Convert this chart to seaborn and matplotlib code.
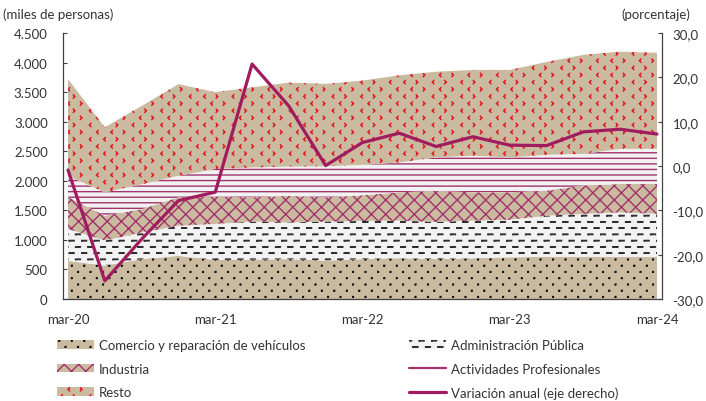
import warnings
warnings.filterwarnings("ignore")
import numpy as np
import matplotlib
matplotlib.use("Agg")
import matplotlib.pyplot as plt
import matplotlib.hatch as mhatch
from matplotlib.path import Path
from matplotlib.patches import Patch
from matplotlib.lines import Line2D
from matplotlib.ticker import FuncFormatter, FixedLocator
import seaborn as sns

# ---------------- data ----------------
quarters = ["mar-20", "jun-20", "sep-20", "dic-20", "mar-21", "jun-21", "sep-21", "dic-21",
            "mar-22", "jun-22", "sep-22", "dic-22", "mar-23", "jun-23", "sep-23", "dic-23", "mar-24"]
comercio = [645, 565, 675, 730, 660, 665, 675, 650, 675, 690, 675, 690, 705, 715, 715, 715, 715]
administracion = [540, 425, 450, 510, 610, 645, 620, 660, 645, 635, 630, 635, 635, 695, 725, 750, 725]
industria = [540, 420, 395, 480, 465, 410, 450, 410, 435, 480, 525, 480, 465, 425, 480, 480, 505]
actividades = [355, 395, 420, 365, 465, 505, 495, 525, 515, 505, 565, 620, 590, 605, 535, 595, 595]
resto = [1640, 1100, 1325, 1550, 1300, 1355, 1420, 1395, 1425, 1475, 1450, 1450, 1480, 1570, 1675, 1645, 1625]
variacion = [-0.9, -25.9, -16.5, -7.8, -5.9, 23.0, 13.5, 0.1, 5.3, 7.4, 4.4, 6.6, 4.7, 4.6, 7.7, 8.3, 7.2]

xtick_labels = ["mar-20", "mar-21", "mar-22", "mar-23", "mar-24"]
left_ticks = [0, 500, 1000, 1500, 2000, 2500, 3000, 3500, 4000, 4500]
right_ticks = [-30, -20, -10, 0, 10, 20, 30]

labels = ["Comercio y reparación de vehículos", "Administración Pública", "Industria",
          "Actividades Profesionales", "Resto", "Variación anual (eje derecho)"]

# ---------------- colours ----------------
TAN = "#CABA9F"
LIGHT = "#F2F2F2"
DOT = "#111111"
DASH = "#2E2E2E"
MAGENTA = "#A3326C"
RED = "#E01B24"
LINE = "#A01C5E"
TXT = "#333333"


# ---------------- custom hatch patterns ----------------
def _dots():
    segs = []
    h = 0.003
    for r in range(16):
        y = (r + 0.5) / 16
        for c in range(8):
            x = (c + (0.25 if r % 2 == 0 else 0.75)) / 8
            segs.append([(x - h, y - h), (x + h, y - h), (x + h, y + h), (x - h, y + h), (x - h, y - h)])
    return segs


def _dashes():
    segs = []
    h = 0.002
    for r in range(16):
        y = (r + 0.5) / 16
        off = 0.006 if r % 2 == 0 else 0.0685
        for c in range(8):
            x0 = c / 8 + off
            x1 = x0 + 0.048
            segs.append([(x0, y - h), (x1, y - h), (x1, y + h), (x0, y + h), (x0, y - h)])
    return segs


def _chevrons():
    segs = []
    a = 0.017
    for r in range(14):
        y = (r + 0.5) / 14
        for c in range(7):
            x = (c + (0.25 if r % 2 == 0 else 0.75)) / 7
            d = 1 if c % 2 == 0 else -1
            segs.append([(x + d * a, y + a), (x, y), (x + d * a, y - a)])
    return segs


def _diamonds():
    n = 7
    segs = []
    for k in range(-n, n + 1):
        c = k / n
        segs.append([(0, c), (1, 1 + c)])
    for k in range(0, 2 * n + 1):
        c = k / n
        segs.append([(0, c), (1, c - 1)])
    return segs


def _make_hatch(ch, fn):
    class _H(mhatch.HatchPatternBase):
        def __init__(self, hatch, density):
            self.segs = fn() if (hatch and ch in hatch) else []
            self.num_vertices = sum(len(s) for s in self.segs)

        def set_vertices_and_codes(self, vertices, codes):
            i = 0
            for s in self.segs:
                n = len(s)
                vertices[i:i + n] = s
                codes[i] = Path.MOVETO
                codes[i + 1:i + n] = Path.LINETO
                i += n
    return _H


for _ch, _fn in [(":", _dots), ("_", _dashes), ("v", _chevrons), ("k", _diamonds)]:
    mhatch._hatch_types.append(_make_hatch(_ch, _fn))

# ---------------- style ----------------
sns.set_theme(style="white")
plt.rcParams["font.family"] = ["Lato", "DejaVu Sans"]
plt.rcParams["hatch.linewidth"] = 1.0
FS = 9.5

fig = plt.figure(figsize=(7.06, 4.02), dpi=100)
fig.patch.set_facecolor("white")
ax = fig.add_axes([63 / 706, 1 - 300 / 402, (662 - 63) / 706, (300 - 34) / 402])
ax.set_facecolor("white")

x = np.arange(len(quarters))
layers = [
    (comercio, TAN, DOT, ":"),
    (administracion, LIGHT, DASH, "_"),
    (industria, TAN, MAGENTA, "k"),
    (actividades, LIGHT, MAGENTA, "---"),
    (resto, TAN, RED, "v"),
]
base = np.zeros(len(x))
for vals, fc, hc, ht in layers:
    top = base + np.asarray(vals, dtype=float)
    ax.fill_between(x, base, top, facecolor=fc, edgecolor=hc, linewidth=0, hatch=ht, zorder=1)
    base = top

ax.set_xlim(-0.136, 16.136)
ax.set_ylim(0, 4500)
ax.yaxis.set_major_locator(FixedLocator(left_ticks))
ax.yaxis.set_major_formatter(FuncFormatter(lambda v, p: f"{int(round(v)):,}".replace(",", ".")))
ax.set_xticks([quarters.index(q) for q in xtick_labels])
ax.set_xticklabels(xtick_labels)
ax.set_xticks([3.83, 7.83, 11.83, 15.83], minor=True)
ax.tick_params(axis="x", which="major", length=0, pad=10, labelsize=FS, labelcolor=TXT)
ax.tick_params(axis="x", which="minor", direction="in", length=2.5, width=0.8, color="#404040", bottom=True)
ax.tick_params(axis="y", which="major", direction="in", length=3, width=0.8, color="#404040",
               left=True, pad=11, labelsize=FS, labelcolor=TXT)
for s in ["top", "right"]:
    ax.spines[s].set_visible(False)
for s in ["left", "bottom"]:
    ax.spines[s].set_color("#404040")
    ax.spines[s].set_linewidth(0.9)

ax2 = ax.twinx()
sns.lineplot(x=x, y=variacion, ax=ax2, color=LINE, linewidth=2.3, legend=False, zorder=5)
ax2.set_ylim(-30, 30)
ax2.yaxis.set_major_locator(FixedLocator(right_ticks))
ax2.yaxis.set_major_formatter(FuncFormatter(lambda v, p: f"{v:.1f}".replace(".", ",")))
ax2.tick_params(axis="y", which="major", direction="in", length=3, width=0.8, color="#404040",
                right=True, pad=7.5, labelsize=FS, labelcolor=TXT)
ax2.set_ylabel("")
ax2.set_xlabel("")
for s in ["top", "left", "bottom"]:
    ax2.spines[s].set_visible(False)
ax2.spines["right"].set_color("#404040")
ax2.spines["right"].set_linewidth(0.9)
ax2.grid(False)
ax.grid(False)

fig.text(3 / 706, 1 - 15 / 402, "(miles de personas)", ha="left", va="center", fontsize=FS, color=TXT)
fig.text(690 / 706, 1 - 15 / 402, "(porcentaje)", ha="right", va="center", fontsize=FS, color=TXT)

# ---------------- legends ----------------
h_left = [Patch(facecolor=TAN, edgecolor=DOT, hatch=":", linewidth=0),
          Patch(facecolor=TAN, edgecolor=MAGENTA, hatch="k", linewidth=0),
          Patch(facecolor=TAN, edgecolor=RED, hatch="v", linewidth=0)]
h_right = [Patch(facecolor=LIGHT, edgecolor=DASH, hatch="_", linewidth=0),
           Line2D([], [], color=MAGENTA, linewidth=1.6),
           Line2D([], [], color=LINE, linewidth=2.3)]
common = dict(loc="upper left", frameon=False, borderpad=0, borderaxespad=0, handlelength=2.8,
              handleheight=0.6, handletextpad=0.4, labelspacing=0.88, fontsize=FS, labelcolor=TXT)
leg1 = fig.legend(h_left, [labels[0], labels[2], labels[4]], bbox_to_anchor=(57 / 706, 1 - 340 / 402), **common)
leg2 = fig.legend(h_right, [labels[1], labels[3], labels[5]], bbox_to_anchor=(409 / 706, 1 - 340 / 402), **common)

fig.savefig("out.png", dpi=100, facecolor="white")
